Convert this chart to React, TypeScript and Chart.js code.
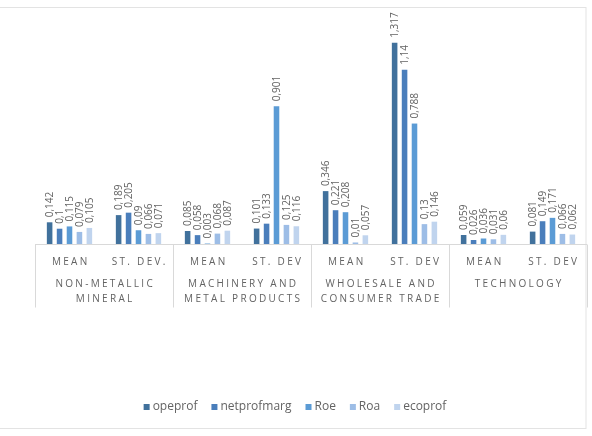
import React, { useEffect, useRef } from "react";
import { Chart, registerables } from "chart.js";

Chart.register(...registerables);

// Per-sector statistics: each sector contributes a MEAN and a ST. DEV column
const categories = ["MEAN", "ST. DEV.", "MEAN", "ST. DEV", "MEAN", "ST. DEV", "MEAN", "ST. DEV"];
const sectors = [
  ["NON-METALLIC", "MINERAL"],
  ["MACHINERY AND", "METAL PRODUCTS"],
  ["WHOLESALE AND", "CONSUMER TRADE"],
  ["TECHNOLOGY"],
];
const seriesNames = ["opeprof", "netprofmarg", "Roe", "Roa", "ecoprof"];
const opeprof = [0.142, 0.189, 0.085, 0.101, 0.346, 1.317, 0.059, 0.081];
const netprofmarg = [0.1, 0.205, 0.058, 0.133, 0.221, 1.14, 0.026, 0.149];
const roe = [0.115, 0.09, 0.003, 0.901, 0.208, 0.788, 0.036, 0.171];
const roa = [0.079, 0.066, 0.068, 0.125, 0.01, 0.13, 0.031, 0.066];
const ecoprof = [0.105, 0.071, 0.087, 0.116, 0.057, 0.146, 0.06, 0.062];

const seriesValues = [opeprof, netprofmarg, roe, roa, ecoprof];
const seriesColors = ["#41719C", "#4A7EBB", "#5B9BD5", "#9DBDE6", "#C0D4EE"];

const FONT = "'Open Sans', 'DejaVu Sans', sans-serif";
const TEXT = "#636363";
const RULE = "#d9d9d9";

const fmt = (v: number) => String(v).replace(".", ",");

const decorPlugin = {
  id: "decor",
  beforeDraw(chart: any) {
    const { ctx, width, height } = chart;
    ctx.save();
    ctx.fillStyle = "#ffffff";
    ctx.fillRect(0, 0, width, height);
    ctx.strokeStyle = "#e3e3e3";
    ctx.lineWidth = 1;
    ctx.strokeRect(-1, 7.5, 587, 421);
    ctx.restore();
  },
  afterDatasetsDraw(chart: any) {
    const { ctx, chartArea } = chart;
    const x = chart.scales.x;
    const base = Math.round(chartArea.bottom) + 0.5;
    ctx.save();

    // value labels, rotated, above each bar
    ctx.fillStyle = TEXT;
    ctx.font = `10px ${FONT}`;
    ctx.textAlign = "left";
    ctx.textBaseline = "middle";
    chart.data.datasets.forEach((ds: any, d: number) => {
      const meta = chart.getDatasetMeta(d);
      meta.data.forEach((bar: any, i: number) => {
        ctx.save();
        ctx.translate(bar.x + 0.5, bar.y - 5);
        ctx.rotate(-Math.PI / 2);
        ctx.fillText(fmt(ds.data[i]), 0, 0);
        ctx.restore();
      });
    });

    // baseline and sector dividers
    ctx.strokeStyle = RULE;
    ctx.lineWidth = 1;
    ctx.beginPath();
    ctx.moveTo(chartArea.left, base);
    ctx.lineTo(chartArea.right, base);
    for (let g = 0; g <= sectors.length; g++) {
      const px = Math.round(x.getPixelForValue(g * 2 - 0.5)) + 0.5;
      ctx.moveTo(px, base);
      ctx.lineTo(px, base + 63);
    }
    ctx.stroke();

    // category labels and sector names
    ctx.fillStyle = TEXT;
    ctx.textAlign = "center";
    ctx.textBaseline = "middle";
    ctx.font = `10px ${FONT}`;
    (ctx as any).letterSpacing = "2.3px";
    categories.forEach((c, i) => {
      ctx.fillText(c, x.getPixelForValue(i) + 1.2, base + 18);
    });
    sectors.forEach((lines, g) => {
      const cx = (x.getPixelForValue(g * 2) + x.getPixelForValue(g * 2 + 1)) / 2 + 1.2;
      lines.forEach((t, k) => {
        ctx.fillText(t, cx, base + 40 + k * 15);
      });
    });
    (ctx as any).letterSpacing = "0px";

    // legend
    ctx.font = `12px ${FONT}`;
    ctx.textAlign = "left";
    const box = 6;
    const gapIn = 3;
    const gapOut = 14;
    const widths = seriesNames.map((n) => box + gapIn + ctx.measureText(n).width);
    const total = widths.reduce((a, b) => a + b, 0) + gapOut * (seriesNames.length - 1);
    let lx = 295 - total / 2;
    const ly = 407;
    seriesNames.forEach((n, i) => {
      ctx.fillStyle = seriesColors[i];
      ctx.fillRect(lx, ly - box / 2, box, box);
      ctx.fillStyle = TEXT;
      ctx.fillText(n, lx + box + gapIn, ly);
      lx += widths[i] + gapOut;
    });

    ctx.restore();
  },
};

export default function App() {
  const ref = useRef<HTMLCanvasElement>(null);

  useEffect(() => {
    if (!ref.current) return;
    const chart = new Chart(ref.current, {
      type: "bar",
      data: {
        labels: categories,
        datasets: seriesNames.map((name, i) => ({
          label: name,
          data: seriesValues[i],
          backgroundColor: seriesColors[i],
          borderWidth: 0,
          categoryPercentage: 0.72,
          barPercentage: 0.56,
        })),
      },
      options: {
        responsive: false,
        animation: false,
        layout: { padding: { left: 35, right: 5, top: 30, bottom: 192 } },
        plugins: {
          legend: { display: false },
          tooltip: { enabled: false },
        },
        scales: {
          x: { display: false },
          y: { display: false, min: 0, max: 1.4 },
        },
      },
      plugins: [decorPlugin],
    });
    return () => chart.destroy();
  }, []);

  return (
    <div style={{ position: "fixed", left: 0, top: 0, width: 592, height: 436, background: "#fff" }}>
      <canvas ref={ref} width={592} height={436} style={{ display: "block" }} />
    </div>
  );
}
